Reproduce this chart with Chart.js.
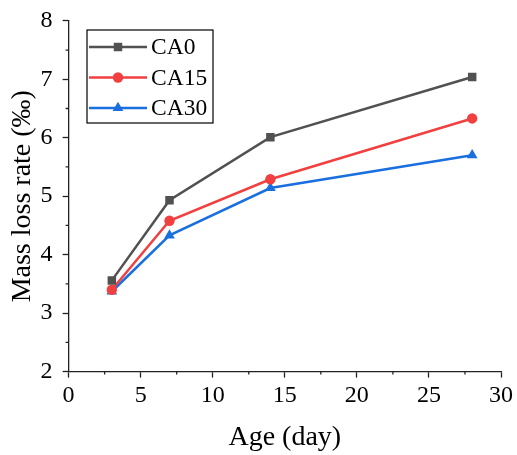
<!DOCTYPE html>
<html>
<head>
<meta charset="utf-8">
<script src="https://cdn.jsdelivr.net/npm/chart.js@4/dist/chart.umd.min.js"></script>
<style>
  html, body { margin: 0; padding: 0; background: #fff; }
  #wrap { width: 517px; height: 455px; }
</style>
</head>
<body>
<div id="wrap"><canvas id="chart" width="517" height="455"></canvas></div>
<script>
const ages = [3, 7, 14, 28];
const ca0 = [3.56, 4.93, 6.01, 7.04];
const ca15 = [3.40, 4.58, 5.29, 6.33];
const ca30 = [3.37, 4.33, 5.14, 5.70];
const seriesNames = ["CA0", "CA15", "CA30"];
const xMinor = [2.5, 7.5, 12.5, 17.5, 22.5, 27.5];
const yMinor = [2.5, 3.5, 4.5, 5.5, 6.5, 7.5];

const FONT = "'Liberation Serif', 'Times New Roman', serif";
const colors = ["#515151", "#F14040", "#1A6FDF"];
const styles = ["rect", "circle", "triangle"];
const radii = [6, 5.2, 6.2];

function toPoints(vals) {
    return ages.map((a, i) => ({ x: a, y: vals[i] }));
}

function drawMarker(ctx, style, x, y, r, color) {
    ctx.save();
    ctx.fillStyle = color;
    ctx.beginPath();
    if (style === "rect") {
        const s = r * Math.SQRT1_2;
        ctx.rect(x - s, y - s, 2 * s, 2 * s);
    } else if (style === "circle") {
        ctx.arc(x, y, r, 0, Math.PI * 2);
    } else {
        ctx.moveTo(x, y - r);
        ctx.lineTo(x + r * 0.866, y + r * 0.5);
        ctx.lineTo(x - r * 0.866, y + r * 0.5);
        ctx.closePath();
    }
    ctx.fill();
    ctx.restore();
}

// minor ticks on both axes
const minorTicks = {
    id: "minorTicks",
    afterDraw(chart) {
        const { ctx, scales, chartArea } = chart;
        ctx.save();
        ctx.strokeStyle = "#222";
        ctx.lineWidth = 1.3;
        ctx.beginPath();
        xMinor.forEach((v) => {
            const px = scales.x.getPixelForValue(v);
            ctx.moveTo(px, chartArea.bottom);
            ctx.lineTo(px, chartArea.bottom + 3);
        });
        yMinor.forEach((v) => {
            const py = scales.y.getPixelForValue(v);
            ctx.moveTo(chartArea.left, py);
            ctx.lineTo(chartArea.left - 3, py);
        });
        ctx.stroke();
        ctx.restore();
    },
};

// boxed legend inside the plot
const boxLegend = {
    id: "boxLegend",
    afterDraw(chart) {
        const ctx = chart.ctx;
        const left = 87, top = 30, w = 126, h = 93;
        ctx.save();
        ctx.strokeStyle = "#000";
        ctx.lineWidth = 1.2;
        ctx.strokeRect(left, top, w, h);
        ctx.font = "23.5px " + FONT;
        ctx.textBaseline = "middle";
        ctx.fillStyle = "#000";
        chart.data.datasets.forEach((ds, i) => {
            const y = top + 17 + i * 30.5;
            ctx.strokeStyle = ds.borderColor;
            ctx.lineWidth = 2.5;
            ctx.beginPath();
            ctx.moveTo(left + 2, y);
            ctx.lineTo(left + 60, y);
            ctx.stroke();
            drawMarker(ctx, styles[i], left + 31, y, radii[i], ds.borderColor);
            ctx.fillStyle = "#000";
            ctx.fillText(ds.label, left + 64, y + 1);
        });
        ctx.restore();
    },
};

const series = [ca0, ca15, ca30];

function buildChart() {
    new Chart(document.getElementById("chart"), {
        type: "line",
        data: {
            datasets: series.map((vals, i) => ({
                label: seriesNames[i],
                data: toPoints(vals),
                borderColor: colors[i],
                backgroundColor: colors[i],
                borderWidth: 2.5,
                pointStyle: styles[i],
                pointRadius: radii[i],
                pointBorderWidth: 0,
                tension: 0,
            })),
        },
        options: {
            responsive: false,
            animation: false,
            layout: { padding: { left: 4, right: 0, top: 0, bottom: 0 } },
            plugins: {
                legend: { display: false },
                tooltip: { enabled: false },
            },
            scales: {
                x: {
                    type: "linear",
                    min: 0,
                    max: 30,
                    ticks: { stepSize: 5, color: "#000", font: { family: FONT, size: 24 }, padding: 4 },
                    grid: { drawOnChartArea: false, drawTicks: true, tickLength: 6, color: "#222", tickWidth: 1.3 },
                    border: { color: "#222", width: 1.3 },
                    title: { display: true, text: "Age (day)", color: "#000", font: { family: FONT, size: 28 }, padding: { top: 6, bottom: 1 } },
                },
                y: {
                    type: "linear",
                    min: 2,
                    max: 8,
                    ticks: { stepSize: 1, color: "#000", font: { family: FONT, size: 24, lineHeight: 0.9 }, padding: 10 },
                    grid: { drawOnChartArea: false, drawTicks: true, tickLength: 6, color: "#222", tickWidth: 1.3 },
                    border: { color: "#222", width: 1.3 },
                    title: { display: true, text: "Mass loss rate (‰)", color: "#000", font: { family: FONT, size: 28 }, padding: { top: 2, bottom: -9 } },
                },
            },
        },
        plugins: [minorTicks, boxLegend],
    });
}

Promise.all([
    document.fonts.load("24px 'Liberation Serif'"),
    document.fonts.load("28px 'Liberation Serif'"),
]).then(buildChart, buildChart);
</script>
</body>
</html>
